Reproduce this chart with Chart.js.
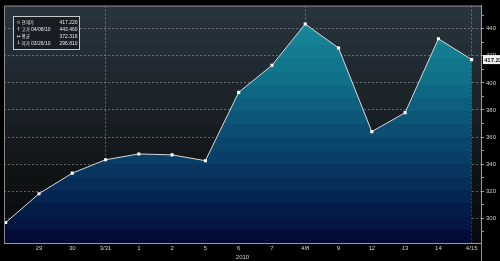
<!DOCTYPE html>
<html>
<head>
<meta charset="utf-8">
<script src="https://cdn.jsdelivr.net/npm/chart.js@4/dist/chart.umd.min.js"></script>
<style>
  html, body { margin: 0; padding: 0; background: #000; }
  #wrap { width: 500px; height: 261px; }
</style>
</head>
<body>
<div id="wrap"><canvas id="priceChart" width="500" height="261"></canvas></div>
<script>
// Daily closes, 2010-03-26 .. 2010-04-15
const dates = ['3/26', '29', '30', '3/31', '1', '2', '5', '6', '7', '4/8', '9', '12', '13', '14', '4/15'];
const prices = [296.81, 318.1, 333.3, 343.2, 347.5, 346.8, 342.5, 393.0, 413.0, 443.46, 425.8, 364.0, 378.0, 432.6, 417.22];
const yTicks = [290, 300, 310, 320, 330, 340, 350, 360, 370, 380, 390, 400, 410, 420, 430, 440, 450];
const yLabelEvery = 20;
const xGridAt = [3, 9, 14];
const yearLabel = '2010';
const summaryIcons = ['☼', '↑', '↔', '↓'];
const summaryNames = ['현재가', '고가', '평균', '저가'];
const summaryDates = ['', '04/08/10', '', '03/26/10'];
const summaryValues = ['417.220', '443.460', '372.316', '296.810'];
const lastLabel = '417.220';

const tinyFont = '"Liberation Sans", Arial, sans-serif';

function hexToRgb(h) {
  return [parseInt(h.slice(1, 3), 16), parseInt(h.slice(3, 5), 16), parseInt(h.slice(5, 7), 16)];
}

function colorAt(stops, t) {
  for (let i = 1; i < stops.length; i++) {
    if (t <= stops[i][0]) {
      const a = stops[i - 1], b = stops[i];
      const k = (t - a[0]) / (b[0] - a[0]);
      const ca = hexToRgb(a[1]), cb = hexToRgb(b[1]);
      const c = ca.map((v, j) => Math.round(v + (cb[j] - v) * k));
      return 'rgb(' + c.join(',') + ')';
    }
  }
  return stops[stops.length - 1][1];
}

// stepped gradient, gives the banded look of the original
function bandedGradient(ctx, top, bottom, stops, bands) {
  const g = ctx.createLinearGradient(0, top, 0, bottom);
  for (let i = 0; i < bands; i++) {
    const c = colorAt(stops, (i + 0.5) / bands);
    g.addColorStop(i / bands, c);
    g.addColorStop((i + 1) / bands, c);
  }
  return g;
}

const bgStops = [[0, '#28353f'], [0.3, '#1f282f'], [0.55, '#161b1f'], [0.72, '#0f1313'], [1, '#08090f']];
const fillStops = [[0, '#178d9e'], [0.1, '#168798'], [0.33, '#0f6d86'], [0.55, '#0b4a70'], [0.78, '#062a55'], [1, '#010833']];

const plotBackground = {
  id: 'plotBackground',
  beforeDraw(chart) {
    const { ctx, chartArea: a } = chart;
    ctx.save();
    ctx.fillStyle = '#000';
    ctx.fillRect(0, 0, chart.width, chart.height);
    ctx.fillStyle = bandedGradient(ctx, a.top, a.bottom, bgStops, 18);
    ctx.fillRect(a.left, a.top, a.right - a.left, a.bottom - a.top);
    ctx.restore();
  }
};

const overlays = {
  id: 'overlays',
  afterDraw(chart) {
    const { ctx, chartArea: a } = chart;
    ctx.save();
    // frame top / left
    ctx.strokeStyle = '#8a8a8a';
    ctx.lineWidth = 1;
    ctx.beginPath();
    ctx.moveTo(a.left + 0.5, a.bottom);
    ctx.lineTo(a.left + 0.5, a.top + 0.5);
    ctx.lineTo(a.right, a.top + 0.5);
    ctx.moveTo(a.right + 0.5, a.bottom);
    ctx.lineTo(a.right + 0.5, chart.height);
    ctx.stroke();

    // summary box
    ctx.fillStyle = 'rgba(22,28,33,0.9)';
    ctx.fillRect(13.5, 16.5, 66, 33);
    ctx.strokeStyle = '#c8c8c8';
    ctx.strokeRect(13.5, 16.5, 66, 33);
    ctx.fillStyle = '#e6e6e6';
    ctx.textBaseline = 'middle';
    for (let i = 0; i < summaryNames.length; i++) {
      const y = 22.5 + i * 6.9;
      ctx.font = '5px "DejaVu Sans"';
      ctx.textAlign = 'center';
      ctx.fillText(summaryIcons[i], 18.5, y);
      ctx.textAlign = 'left';
      ctx.font = '4.5px "Noto Sans CJK KR"';
      ctx.fillText(summaryNames[i], 21.5, y);
      ctx.font = '5px ' + tinyFont;
      ctx.fillText(summaryDates[i], 31, y);
      ctx.textAlign = 'right';
      ctx.fillText(summaryValues[i], 77.5, y);
    }

    // last value tag on the axis
    const ly = chart.scales.y.getPixelForValue(prices[prices.length - 1]);
    ctx.fillStyle = '#f2f2f2';
    ctx.fillRect(483, ly - 4.5, 20, 9);
    ctx.fillStyle = '#111';
    ctx.textAlign = 'left';
    ctx.font = 'bold 6px ' + tinyFont;
    ctx.fillText(lastLabel, 484, ly + 0.5);
    ctx.restore();
  }
};

const gridDash = 'rgba(190,190,190,0.45)';

new Chart(document.getElementById('priceChart'), {
  type: 'line',
  data: {
    datasets: [{
      data: prices.map((p, i) => ({ x: i, y: p })),
      borderColor: '#d8d8d8',
      borderWidth: 1,
      fill: 'start',
      backgroundColor: function(context) {
        const a = context.chart.chartArea;
        if (!a) return '#0b4a70';
        return bandedGradient(context.chart.ctx, a.top, a.bottom, fillStops, 18);
      },
      tension: 0,
      pointStyle: 'rect',
      pointRadius: 2.2,
      pointBorderWidth: 0,
      pointBackgroundColor: '#ffffff'
    }]
  },
  options: {
    responsive: false,
    animation: false,
    layout: { padding: { top: 1, left: 1, right: 0, bottom: 0 } },
    plugins: {
      legend: { display: false },
      tooltip: { enabled: false }
    },
    scales: {
      x: {
        type: 'linear',
        min: -0.05,
        max: 14.28,
        afterBuildTicks: function(scale) {
          scale.ticks = dates.map((d, i) => ({ value: i }));
        },
        afterFit: function(scale) { scale.height = 18; },
        ticks: {
          autoSkip: false,
          maxRotation: 0,
          padding: 2,
          color: '#cfcfcf',
          font: { size: 6, family: tinyFont },
          callback: function(value) {
            return value === 0 ? '' : dates[value];
          }
        },
        grid: {
          drawTicks: false,
          color: function(ctx) {
            return ctx.tick && xGridAt.includes(ctx.tick.value) ? gridDash : 'transparent';
          }
        },
        border: { color: '#9a9a9a', width: 1, dash: [2, 2] },
        title: {
          display: true,
          text: yearLabel,
          color: '#cfcfcf',
          font: { size: 6, family: tinyFont },
          padding: { top: 1, bottom: 0 }
        }
      },
      y: {
        position: 'right',
        min: 281.7,
        max: 457.1,
        afterBuildTicks: function(scale) {
          scale.ticks = yTicks.map(v => ({ value: v }));
        },
        afterFit: function(scale) { scale.width = 19; },
        ticks: {
          padding: 2,
          color: '#cfcfcf',
          font: { size: 6, family: tinyFont },
          callback: function(value) {
            return value % yLabelEvery === 0 ? String(value) : '';
          }
        },
        grid: {
          tickLength: 3,
          tickColor: '#9a9a9a',
          color: function(ctx) {
            return ctx.tick && ctx.tick.value % yLabelEvery === 0 ? gridDash : 'transparent';
          }
        },
        border: { color: '#9a9a9a', width: 1, dash: [2, 2] }
      }
    }
  },
  plugins: [plotBackground, overlays]
});
</script>
</body>
</html>
